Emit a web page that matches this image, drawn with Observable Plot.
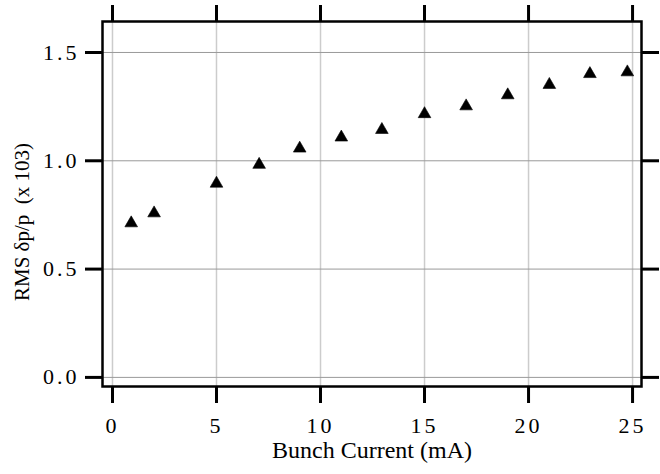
<!DOCTYPE html>
<html>
<head>
<meta charset="utf-8">
<script src="https://cdn.jsdelivr.net/npm/d3@7"></script>
<script src="https://cdn.jsdelivr.net/npm/@observablehq/plot@0.6"></script>
<style>
  html, body { margin: 0; padding: 0; background: #fff; }
  svg text { font-family: "Liberation Serif", "DejaVu Serif", serif !important; }
</style>
</head>
<body>
<div id="chart"></div>
<script>
const current = [0.9, 2.0, 5.0, 7.05, 9.0, 11.0, 12.95, 15.0, 17.0, 19.0, 21.0, 22.95, 24.75];
const rmsDp = [0.712, 0.758, 0.895, 0.982, 1.057, 1.108, 1.143, 1.216, 1.252, 1.303, 1.351, 1.401, 1.409];
const xTicks = [0, 5, 10, 15, 20, 25];
const yTicks = [0.0, 0.5, 1.0, 1.5];
const xLabel = "Bunch Current (mA)";
const yLabelParts = ["RMS ", "δp/p  (x ", "10", "3", ")"];

const data = current.map((c, i) => ({current: c, rms: rmsDp[i]}));
const font = "'Liberation Serif', 'DejaVu Serif', serif";

const chart = Plot.plot({
  width: 660,
  height: 474,
  marginLeft: 102,
  marginRight: 19,
  marginTop: 21,
  marginBottom: 88,
  style: {fontSize: "22px", background: "#fff", color: "#000"},
  x: {domain: [-0.48, 25.43]},
  y: {domain: [-0.042, 1.643]},
  marks: [
    Plot.gridX(xTicks, {stroke: "#cccccc", strokeOpacity: 1, strokeWidth: 1.5}),
    Plot.gridY(yTicks, {stroke: "#9a9a9a", strokeOpacity: 1, strokeWidth: 1}),
    Plot.axisX(xTicks, {anchor: "bottom", tickSize: 17, tickPadding: 14, strokeWidth: 3, label: null, tickFormat: d => String(d)}),
    Plot.axisX(xTicks, {anchor: "top", tickSize: 17, strokeWidth: 3, label: null, tickFormat: () => ""}),
    Plot.axisY(yTicks, {anchor: "left", tickSize: 17, tickPadding: 6, strokeWidth: 3, label: null, tickFormat: d => d.toFixed(1)}),
    Plot.axisY(yTicks, {anchor: "right", tickSize: 17, strokeWidth: 3, label: null, tickFormat: () => ""}),
    Plot.frame({stroke: "#000", strokeWidth: 2.5}),
    Plot.dot(data, {x: "current", y: "rms", symbol: "triangle", r: 4.7, fill: "#000", stroke: "#000", strokeWidth: 0.6}),
    Plot.text([xLabel], {frameAnchor: "bottom", dy: 71, fontSize: 24, fill: "#000"}),
    Plot.text([yLabelParts.join("")], {frameAnchor: "left", textAnchor: "start", rotate: -90, dx: -80, dy: 97, fontSize: 21, fill: "#000", ariaLabel: "y-label"})
  ]
});

const svg = d3.select(chart);
svg.attr("font-family", font);
svg.selectAll("text").attr("font-family", font);
svg.selectAll('g[aria-label="x-axis tick label"] text, g[aria-label="y-axis tick label"] text')
  .attr("letter-spacing", "3px");

// y label rich text (superscript exponent)
svg.selectAll('g[aria-label="y-label"] text').each(function() {
  const t = d3.select(this);
  t.text(null);
  t.append("tspan").text(yLabelParts[0]);
  t.append("tspan").text(yLabelParts[1]);
  t.append("tspan").text(yLabelParts[2]);
  t.append("tspan").attr("dy", "-8").attr("font-size", "13px").text(yLabelParts[3]);
  t.append("tspan").attr("dy", "8").text(yLabelParts[4]);
});

document.getElementById("chart").appendChild(chart);
</script>
</body>
</html>
